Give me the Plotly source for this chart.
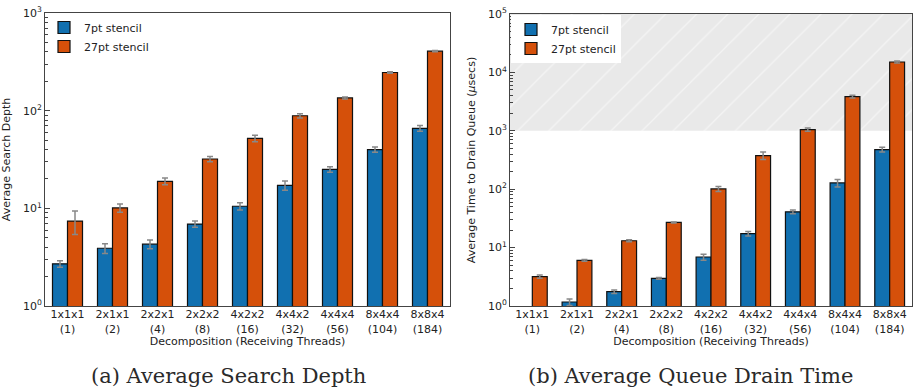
import plotly.graph_objects as go

categories = ["1x1x1<br>(1)", "2x1x1<br>(2)", "2x2x1<br>(4)", "2x2x2<br>(8)", "4x2x2<br>(16)",
              "4x4x2<br>(32)", "4x4x4<br>(56)", "8x4x4<br>(104)", "8x8x4<br>(184)"]

# (a) Average Search Depth
depth_7pt = [2.7, 3.9, 4.3, 6.9, 10.5, 17.2, 25.0, 40.0, 66.0]
depth_7pt_err = [0.2, 0.45, 0.45, 0.5, 0.9, 1.9, 1.6, 2.5, 4.5]
depth_27pt = [7.4, 10.1, 18.9, 32.0, 52.0, 88.7, 135.0, 246.0, 407.0]
depth_27pt_err = [2.0, 1.0, 1.5, 2.0, 4.0, 4.5, 3.0, 4.0, 5.0]

# (b) Average Queue Drain Time (usecs)
drain_7pt = [None, 1.17, 1.76, 2.97, 6.9, 17.3, 41.0, 128.0, 477.0]
drain_7pt_err = [0, 0.15, 0.12, 0.1, 0.8, 1.5, 3.0, 19.0, 45.0]
drain_27pt = [3.18, 6.04, 13.1, 27.0, 101.0, 377.0, 1050.0, 3845.0, 15060.0]
drain_27pt_err = [0.2, 0.2, 0.5, 0.5, 10.0, 55.0, 70.0, 200.0, 600.0]

shade_low, shade_high = 1e3, 1e5

BLUE = "#1170b0"
ORANGE = "#d5500a"
FONT = "DejaVu Sans"

fig = go.Figure()

# hatched region in panel (b) -- on the base (hidden) linear axis x2 so bars draw above it
fig.add_trace(go.Scatter(
    x=[0, 1, 1, 0, 0], y=[shade_low, shade_low, shade_high, shade_high, shade_low],
    xaxis="x2", yaxis="y2", mode="lines", line=dict(width=0), fill="toself",
    fillcolor="#e9e9e9",
    fillpattern=dict(shape="/", bgcolor="#e9e9e9", fgcolor="#ffffff", size=22, solidity=0.06),
    showlegend=False, hoverinfo="skip",
))


def add_bars(x_ax, y_ax, legend, vals, errs, name, color):
    fig.add_trace(go.Bar(
        x=categories, y=vals, name=name, xaxis=x_ax, yaxis=y_ax, legend=legend,
        marker=dict(color=color, line=dict(color="#111111", width=1.2)),
        error_y=dict(type="data", array=errs, color="#888888", thickness=1.5, width=3),
    ))


add_bars("x", "y", "legend", depth_7pt, depth_7pt_err, "7pt stencil", BLUE)
add_bars("x", "y", "legend", depth_27pt, depth_27pt_err, "27pt stencil", ORANGE)
add_bars("x3", "y2", "legend2", drain_7pt, drain_7pt_err, "7pt stencil", BLUE)
add_bars("x3", "y2", "legend2", drain_27pt, drain_27pt_err, "27pt stencil", ORANGE)


def minor_vals(decades):
    return [m * 10 ** d for d in range(decades) for m in range(2, 10)]


axis_common = dict(showline=True, linecolor="#444444", linewidth=1, mirror=True,
                   automargin=False,
                   tickfont=dict(family=FONT, size=11, color="#222222"),
                   title_font=dict(family=FONT, size=11, color="#222222"))

yaxis_common = dict(axis_common, type="log", ticks="inside", ticklen=5, tickcolor="#444444",
                    showgrid=False, zeroline=False)

xaxis_common = dict(axis_common, ticks="", showgrid=False, type="category",
                    ticklabelstandoff=-2,
                    title_text="Decomposition (Receiving Threads)", title_standoff=0)

L_DOM = [45 / 919, 450 / 919]
R_DOM = [510 / 919, 912 / 919]

fig.update_layout(
    width=919, height=392, margin=dict(l=0, r=0, t=0, b=0, autoexpand=False),
    paper_bgcolor="white", plot_bgcolor="white",
    barmode="group", bargap=0.333, bargroupgap=0,
    font=dict(family=FONT, size=11, color="#222222"),
    xaxis=dict(xaxis_common, domain=L_DOM, anchor="y"),
    yaxis=dict(yaxis_common, domain=[1 - 306 / 392, 1 - 13 / 392], anchor="x",
               range=[0, 3], tickmode="array", tickvals=[1, 10, 100, 1000],
               ticktext=["10<sup>0</sup>", "10<sup>1</sup>", "10<sup>2</sup>", "10<sup>3</sup>"],
               minor=dict(tickmode="array", tickvals=minor_vals(3), ticks="inside", ticklen=3,
                          tickcolor="#444444"),
               title_text="Average Search Depth", title_standoff=12),
    xaxis2=dict(domain=R_DOM, anchor="y2", range=[0, 1], visible=False, fixedrange=True,
                automargin=False),
    xaxis3=dict(xaxis_common, domain=R_DOM, anchor="y2", overlaying="x2"),
    yaxis2=dict(yaxis_common, domain=[1 - 306 / 392, 1 - 14 / 392], anchor="x3",
                range=[0, 5], tickmode="array", tickvals=[1, 10, 100, 1000, 10000, 100000],
                ticktext=["10<sup>0</sup>", "10<sup>1</sup>", "10<sup>2</sup>", "10<sup>3</sup>",
                          "10<sup>4</sup>", "10<sup>5</sup>"],
                minor=dict(tickmode="array", tickvals=minor_vals(5), ticks="inside", ticklen=3,
                           tickcolor="#444444"),
                title_text="Average Time to Drain Queue (<i>μ</i>secs)", title_standoff=10),
    legend=dict(x=44 / 919, y=1 - 13 / 392, xanchor="left", yanchor="top",
                bgcolor="rgba(0,0,0,0)", font=dict(family=FONT, size=11), tracegroupgap=0,
                itemwidth=30),
    legend2=dict(x=511 / 919, y=1 - 15 / 392, xanchor="left", yanchor="top",
                 bgcolor="white", font=dict(family=FONT, size=11), tracegroupgap=0,
                 itemwidth=30),
    annotations=[
        dict(text="(a) Average Search Depth", x=228 / 919, y=1 - 376 / 392, xref="paper",
             yref="paper", xanchor="center", yanchor="middle", showarrow=False,
             font=dict(family="DejaVu Serif", size=21, color="#2a2a2a")),
        dict(text="(b) Average Queue Drain Time", x=690 / 919, y=1 - 376 / 392, xref="paper",
             yref="paper", xanchor="center", yanchor="middle", showarrow=False,
             font=dict(family="DejaVu Serif", size=21, color="#2a2a2a")),
    ],
)

fig.write_html("out.html", config={"displayModeBar": False},
               post_script="document.body.style.margin='0px';")
